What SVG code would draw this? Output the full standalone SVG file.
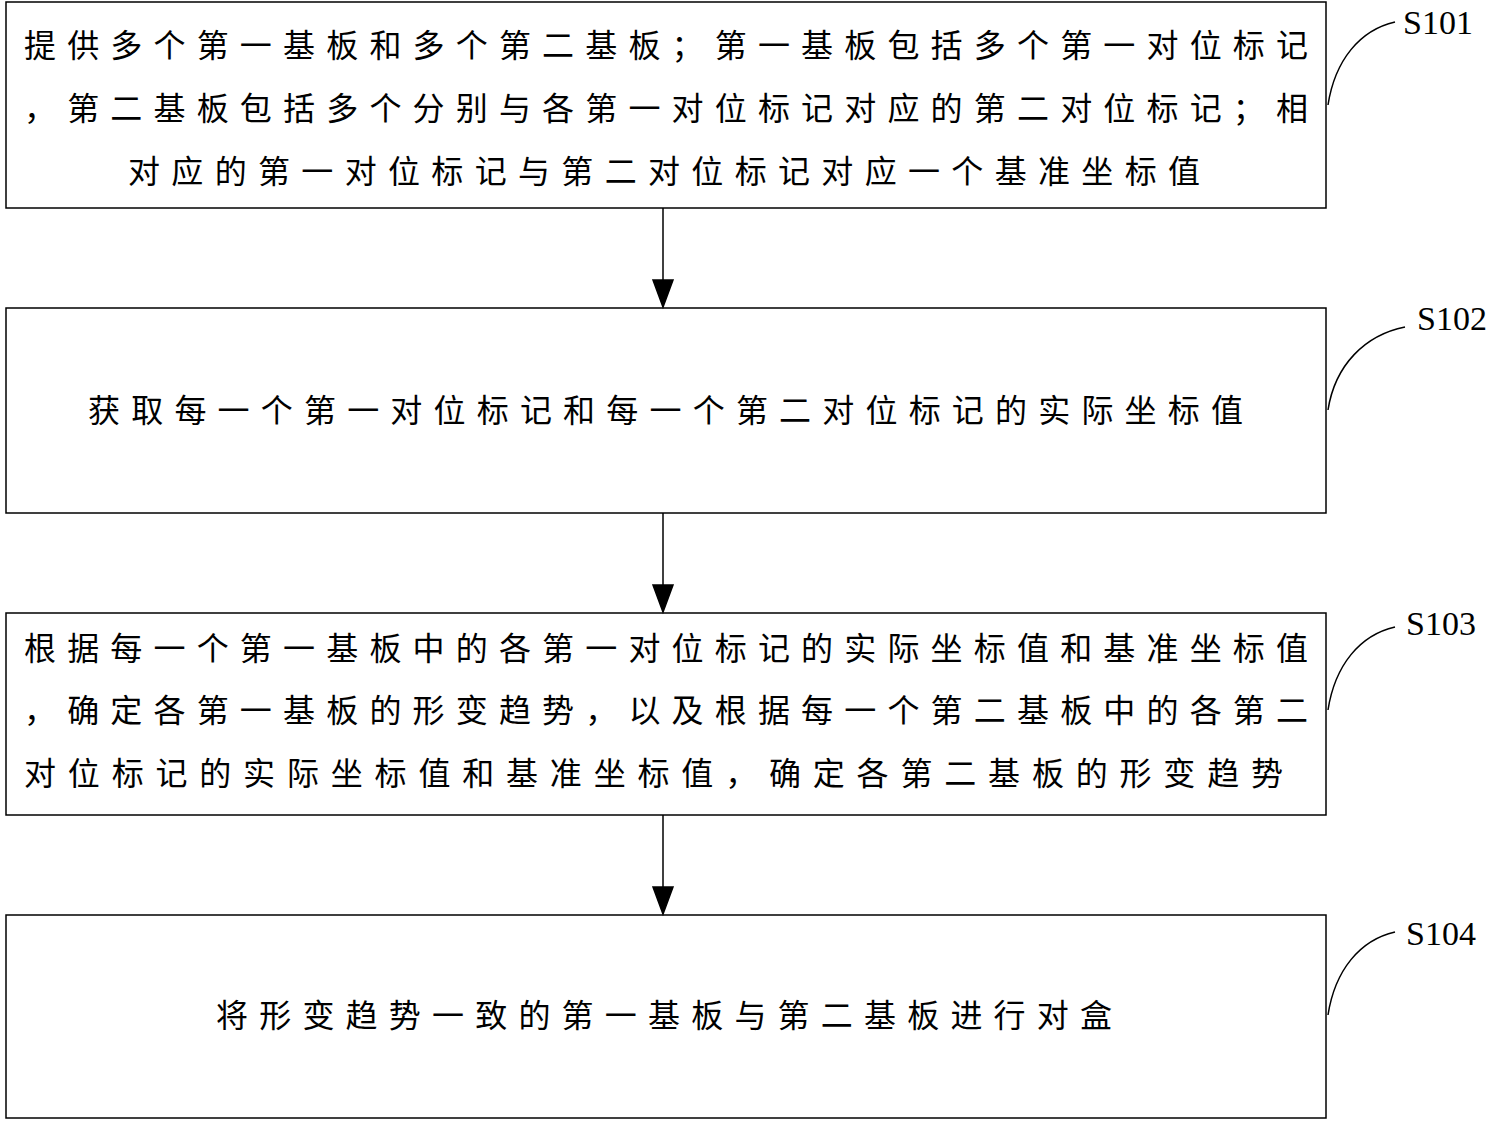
<svg xmlns="http://www.w3.org/2000/svg" width="1506" height="1122" viewBox="0 0 1506 1122">
<style>
rect{fill:#fff;stroke:#000;stroke-width:1.5}
.t{font-family:"Noto Sans CJK SC",sans-serif;font-size:32px;fill:#000}
.l{font-family:"Liberation Serif",serif;font-size:34px;fill:#000}
.c{fill:none;stroke:#000;stroke-width:1.5}
</style>
<defs><marker id="a" markerWidth="10" markerHeight="14" refX="10" refY="7" orient="auto" markerUnits="userSpaceOnUse"><path d="M0,0L10,7L0,14z" fill="#000" transform="scale(2.2,1) translate(-5.5,0)"/></marker></defs>
<rect width="1506" height="1122" style="stroke:none"/>
<g id="s101"><rect x="6" y="2" width="1320" height="206"/>
<text class="t" x="24" y="57" textLength="1284" lengthAdjust="spacing">提供多个第一基板和多个第二基板；第一基板包括多个第一对位标记</text>
<text class="t" x="24" y="120" textLength="1284" lengthAdjust="spacing">，第二基板包括多个分别与各第一对位标记对应的第二对位标记；相</text>
<text class="t" x="128" y="183" textLength="1072" lengthAdjust="spacing">对应的第一对位标记与第二对位标记对应一个基准坐标值</text>
<path class="c" d="M1328,105C1335,60 1360,30 1395,22"/><text class="l" x="1403" y="34">S101</text></g>
<g id="s102"><rect x="6" y="308" width="1320" height="205"/>
<text class="t" x="88" y="422" textLength="1155" lengthAdjust="spacing">获取每一个第一对位标记和每一个第二对位标记的实际坐标值</text>
<path class="c" d="M1328,410C1335,365 1365,335 1405,327"/><text class="l" x="1417" y="330">S102</text></g>
<g id="s103"><rect x="6" y="613" width="1320" height="202"/>
<text class="t" x="24" y="660" textLength="1284" lengthAdjust="spacing">根据每一个第一基板中的各第一对位标记的实际坐标值和基准坐标值</text>
<text class="t" x="24" y="722" textLength="1284" lengthAdjust="spacing">，确定各第一基板的形变趋势，以及根据每一个第二基板中的各第二</text>
<text class="t" x="24" y="785" textLength="1259" lengthAdjust="spacing">对位标记的实际坐标值和基准坐标值，确定各第二基板的形变趋势</text>
<path class="c" d="M1328,710C1335,665 1360,635 1395,627"/><text class="l" x="1406" y="635">S103</text></g>
<g id="s104"><rect x="6" y="915" width="1320" height="203"/>
<text class="t" x="216" y="1027" textLength="896" lengthAdjust="spacing">将形变趋势一致的第一基板与第二基板进行对盒</text>
<path class="c" d="M1328,1015C1335,970 1360,940 1395,932"/><text class="l" x="1406" y="945">S104</text></g>
<g id="connectors" stroke="#000" stroke-width="1.5" fill="#000">
<line x1="663" y1="208" x2="663" y2="282"/><path d="M653,280L673,280L663,307z"/>
<line x1="663" y1="513" x2="663" y2="587"/><path d="M653,585L673,585L663,612z"/>
<line x1="663" y1="815" x2="663" y2="889"/><path d="M653,887L673,887L663,914z"/>
</g>
</svg>
